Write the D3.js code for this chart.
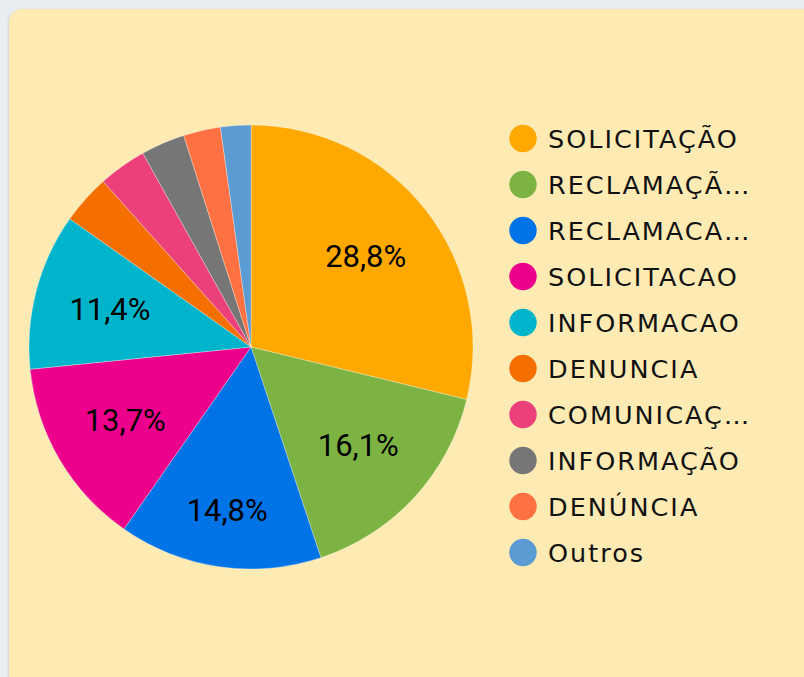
<!DOCTYPE html>
<html>
<head>
<meta charset="utf-8">
<script src="https://cdn.jsdelivr.net/npm/d3@7"></script>
<style>
  html, body { margin: 0; padding: 0; width: 804px; height: 677px; overflow: hidden; background: #e9edf1; }
  #card { position: absolute; left: 9px; top: 9px; width: 820px; height: 700px; background: #feebb4; border-radius: 13px; box-shadow: 0 1px 3px rgba(0,0,0,0.2); }
  svg { position: absolute; left: 0; top: 0; }
</style>
</head>
<body>
<div id="card"></div>
<svg id="chart" width="804" height="677"></svg>
<script>
const categories = ["SOLICITAÇÃO", "RECLAMAÇÃ…", "RECLAMACA…", "SOLICITACAO", "INFORMACAO", "DENUNCIA", "COMUNICAÇ…", "INFORMAÇÃO", "DENÚNCIA", "Outros"];
const values = [28.8, 16.1, 14.8, 13.7, 11.4, 3.6, 3.5, 3.2, 2.7, 2.2];
const colors = ["#ffa800", "#7cb342", "#0073e6", "#ec008c", "#00b4cb", "#f56f00", "#ec407a", "#767676", "#ff7043", "#5b9bd4"];

const svg = d3.select("#chart");
const cx = 251, cy = 347, r = 222;
const g = svg.append("g").attr("transform", `translate(${cx},${cy})`);

const pie = d3.pie().sort(null).value(d => d.v);
const data = categories.map((c, i) => ({ c, v: values[i], col: colors[i] }));
const arcs = pie(data);
const arc = d3.arc().innerRadius(0).outerRadius(r);

g.selectAll("path").data(arcs).join("path")
  .attr("d", arc)
  .attr("fill", d => d.data.col)
  .attr("stroke", "rgba(255,255,255,0.5)")
  .attr("stroke-width", 0.6);

const total = d3.sum(values);
const fmt = v => (v).toFixed(1).replace(".", ",") + "%";
// labels sit at ~0.66r; the slice pointing straight down is pushed further out
const labelPos = d => {
  const mid = (d.startAngle + d.endAngle) / 2;
  const down = Math.abs(Math.cos(mid)) > 0.98 && Math.cos(mid) < 0;
  const rr = down ? r * 0.745 : r * 0.657;
  return [Math.sin(mid) * rr, -Math.cos(mid) * rr];
};
g.selectAll("text.lbl").data(arcs.filter(d => d.data.v / total >= 0.05)).join("text")
  .attr("class", "lbl")
  .attr("transform", d => `translate(${labelPos(d)})`)
  .attr("text-anchor", "middle")
  .attr("dominant-baseline", "central")
  .attr("font-family", "Roboto, sans-serif")
  .attr("font-size", 31)
  .attr("fill", "#000")
  .text(d => fmt(d.data.v / total * 100));

const leg = svg.append("g");
const item = leg.selectAll("g").data(data).join("g")
  .attr("transform", (d, i) => `translate(523,${138.5 + i * 46})`);
item.append("circle").attr("r", 13.7).attr("fill", d => d.col);
item.append("text")
  .attr("x", 25)
  .attr("dominant-baseline", "central")
  .attr("font-family", "'DejaVu Sans', sans-serif")
  .attr("font-size", 25.5)
  .attr("letter-spacing", 2.0)
  .attr("fill", "#111")
  .text(d => d.c);
</script>
</body>
</html>
